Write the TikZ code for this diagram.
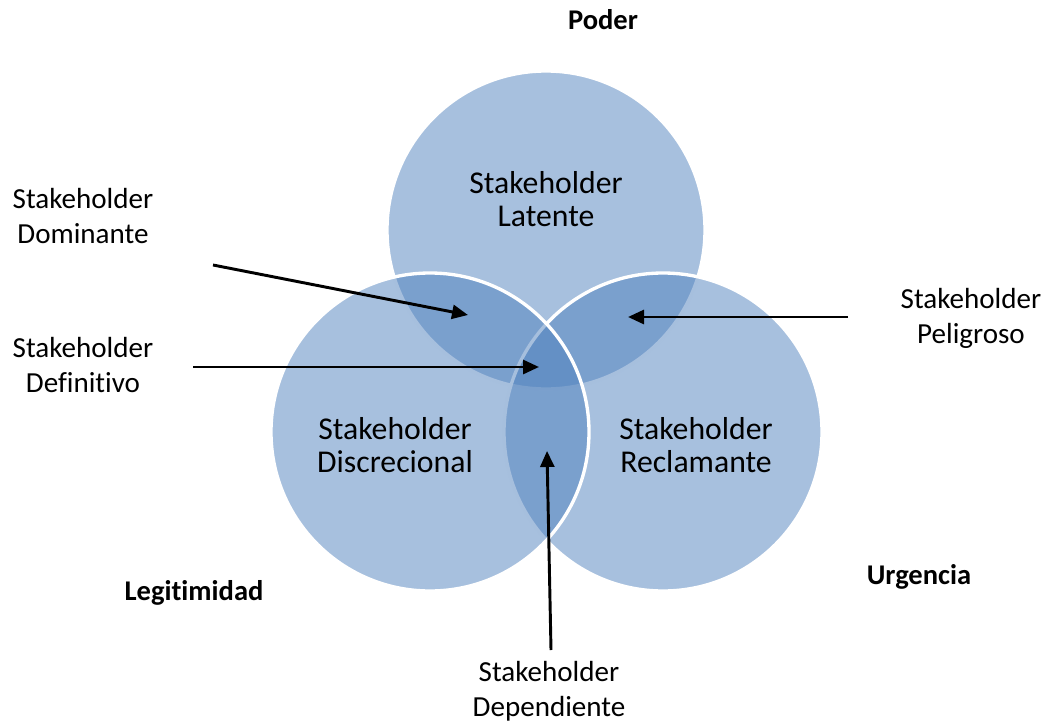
\documentclass[tikz,border=0pt]{standalone}
\usepackage{fontspec}
\setmainfont{Carlito}[Ligatures={TeX,NoCommon}]
\usetikzlibrary{arrows.meta}
\definecolor{vennblue}{HTML}{4F81BD}
\begin{document}
\begin{tikzpicture}[x=0.75pt,y=-0.75pt,
  venn/.style={fill=vennblue,fill opacity=0.5,draw=white,draw opacity=1,line width=2.5pt},
  inlabel/.style={align=center,inner sep=0pt,font=\fontsize{23.8}{24.5}\selectfont},
  outlabel/.style={align=center,inner sep=0pt,font=\fontsize{21.8}{26.3}\selectfont},
  setlabel/.style={inner sep=0pt,font=\fontsize{21.4}{25}\selectfont\bfseries},
  pointer/.style={line width=2.2pt,-{Triangle[length=12pt,width=10.5pt]}}]
\useasboundingbox (0,0) rectangle (1052,724);
% three overlapping sets
\path[venn] (546,230) circle[radius=119.25pt];
\path[venn] (663,432) circle[radius=119.25pt];
\path[venn] (430,432) circle[radius=119.25pt];
% labels inside the circles
\node[inlabel] (latente) at (546,199) {Stakeholder\\Latente};
\node[inlabel] (discrecional) at (395,445) {Stakeholder\\Discrecional};
\node[inlabel] (reclamante) at (696,445) {Stakeholder\\Reclamante};
% set names
\node[setlabel] (poder) at (603,20) {Poder};
\node[setlabel] (legitimidad) at (194,593) {Legitimidad};
\node[setlabel] (urgencia) at (919,577) {Urgencia};
% outer labels
\node[outlabel] (dominante) at (83,216) {Stakeholder\\Dominante};
\node[outlabel] (definitivo) at (83,365) {Stakeholder\\Definitivo};
\node[outlabel] (peligroso) at (971,318) {Stakeholder\\Peligroso};
\node[outlabel] (dependiente) at (549,691) {Stakeholder\\Dependiente};
% pointer ends
\coordinate (domS) at (213,265);
\coordinate (domT) at (468,315);
\coordinate (defS) at (193,367);
\coordinate (defT) at (539,367);
\coordinate (pelS) at (848,317);
\coordinate (pelT) at (628,317);
\coordinate (depS) at (551,650);
\coordinate (depT) at (547,451);
\draw[pointer] (domS) -- (domT);
\draw[pointer] (defS) -- (defT);
\draw[pointer] (pelS) -- (pelT);
\draw[pointer] (depS) -- (depT);
\end{tikzpicture}
\end{document}
